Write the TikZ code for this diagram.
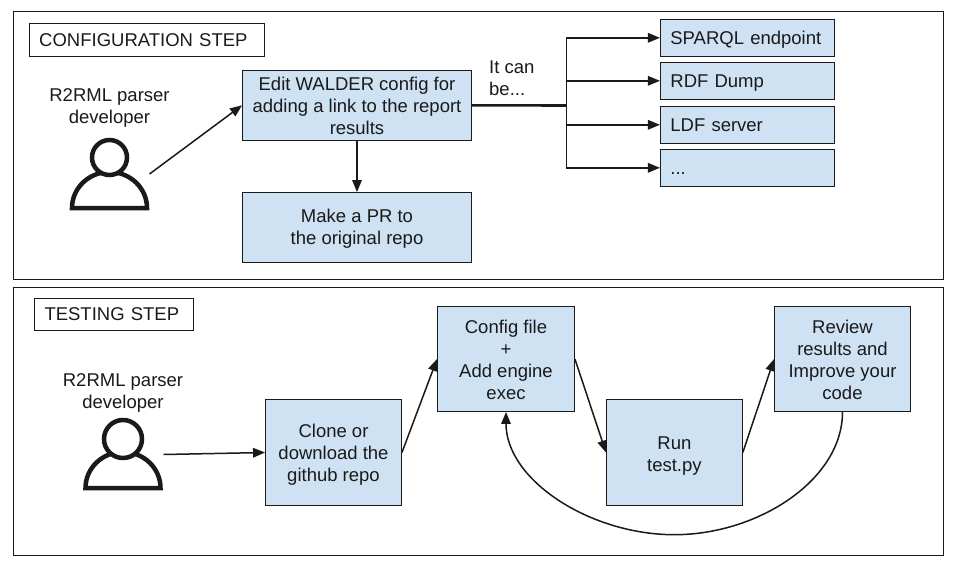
\documentclass[tikz,border=0pt]{standalone}
\usepackage{fontspec}
\setmainfont{Liberation Sans}
\usetikzlibrary{arrows.meta,positioning}
\definecolor{boxblue}{HTML}{CFE2F3}
\definecolor{ink}{HTML}{1A1A1A}
\newcommand\lowerby[1]{\rule{0pt}{#1pt}}
\tikzset{
  x=1pt,y=-1pt,
  every node/.style={font=\fontsize{18.5}{22}\selectfont,text=ink},
  panel/.style={draw=ink,line width=1pt,fill=white},
  titlebox/.style={draw=ink,line width=.9pt,fill=white,anchor=center,inner sep=0pt},
  flowbox/.style={draw=ink,line width=.9pt,fill=boxblue,align=center,inner sep=0pt},
  optbox/.style={draw=ink,line width=.9pt,fill=boxblue,align=left,inner sep=0pt,minimum width=174pt,minimum height=36.5pt,text width=154pt,text height=15pt,text depth=1.6pt},
  plain/.style={align=center,inner sep=0pt},
  conn/.style={ink,line width=1.5pt,-{Triangle[length=12pt,width=9.5pt]}},
  personline/.style={ink,line width=4.5pt},
}
\begin{document}
\begin{tikzpicture}
\useasboundingbox (0,0) rectangle (956,568);
\fill[white] (0,0) rectangle (956,568);
% panels
\draw[panel] (13.5,11.5) rectangle (943.5,279);
\draw[panel] (13.5,287.7) rectangle (943.5,555);
% titles
\node[titlebox,minimum width=235.5pt,minimum height=33pt,align=left,text width=215pt] (t1) at (146.7,40) {CONFIGURATION STEP};
\node[titlebox,minimum width=159pt,minimum height=32pt,align=left,text width=139pt] (t2) at (114,314.5) {TESTING STEP};
% top row
\node[plain] (dev1) at (109.5,108) {R2RML parser\\developer};
\node[flowbox,minimum width=229pt,minimum height=69.5pt] (edit) at (357,105.3) {\lowerby{15.3}Edit WALDER config for\\adding a link to the report\\results};
\node[flowbox,minimum width=229pt,minimum height=70pt] (pr) at (357,227.5) {\lowerby{15.3}Make a PR to\\the original repo};
\node[plain,align=left,anchor=west] (can) at (489,78) {It can\\be...};
\node[optbox] (o1) at (747.4,37.8) {SPARQL endpoint};
\node[optbox] (o2) at (747.4,80.8) {RDF Dump};
\node[optbox] (o3) at (747.4,124.8) {LDF server};
\node[optbox] (o4) at (747.4,167.8) {...};
% bottom row
\node[plain] (dev2) at (123,393) {R2RML parser\\developer};
\node[flowbox,minimum width=136pt,minimum height=105.6pt] (clone) at (333.5,452.5) {\lowerby{17.3}Clone or\\download the\\github repo};
\node[flowbox,minimum width=137pt,minimum height=105pt] (cfg) at (506,359) {\lowerby{15.3}Config file\\+\\Add engine\\exec};
\node[flowbox,minimum width=136pt,minimum height=105.6pt] (run) at (674.4,452.5) {\lowerby{19.3}Run\\test.py};
\node[flowbox,minimum width=136pt,minimum height=105pt] (rev) at (842.5,359) {\lowerby{15.3}Review\\results and\\Improve your\\code};
% person icons
\draw[personline,line join=miter] (72,208) arc[start angle=180,end angle=360,x radius=37.5,y radius=36] -- cycle;
\draw[personline,fill=white] (109.5,157.5) circle (17.5);
\draw[personline,line join=miter] (85.5,488) arc[start angle=180,end angle=360,x radius=37.5,y radius=36] -- cycle;
\draw[personline,fill=white] (123,439) circle (19);
% connector ends
\coordinate (p1) at (149.5,174);
\coordinate (p2) at (163.5,454.5);
\coordinate (trunk) at (566.3,105.5);
\coordinate (low) at (674.3,534.7);
% connectors
\draw[conn] (p1) -- (edit.west);
\draw[conn] (edit.south) -- (pr.north);
\draw[ink,line width=2.6pt] (edit.east) -- (trunk);
\draw[ink,line width=1.5pt] (trunk|-o1.west) -- (trunk|-o4.west);
\draw[conn] (trunk|-o1.west) -- (o1.west);
\draw[conn] (trunk|-o2.west) -- (o2.west);
\draw[conn] (trunk|-o3.west) -- (o3.west);
\draw[conn] (trunk|-o4.west) -- (o4.west);
\draw[conn] (p2) -- (clone.west);
\draw[conn] (clone.east) -- (cfg.west);
\draw[conn] (cfg.east) -- (run.west);
\draw[conn] (run.east) -- (rev.west);
\draw[conn] (rev.south) .. controls (842.5,480) and (758,534.7) .. (low) .. controls (590,534.7) and (506,480) .. (cfg.south);
\end{tikzpicture}
\end{document}
